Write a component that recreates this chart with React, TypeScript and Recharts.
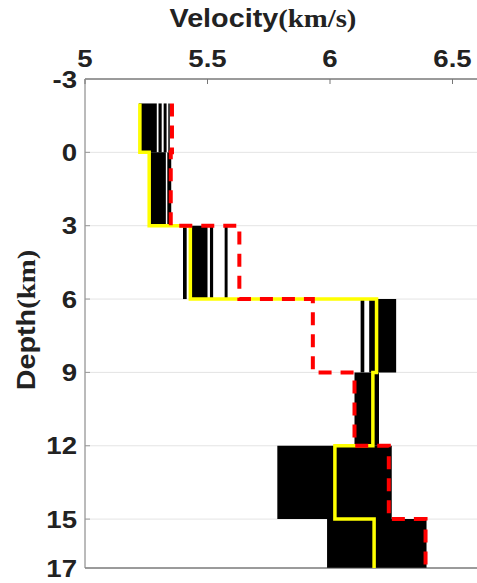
import React from 'react';
import { ComposedChart, Scatter, XAxis, YAxis, CartesianGrid, ReferenceArea, ReferenceLine } from 'recharts';

// layer boundaries (km)
const layerTop = [-2, 0, 3, 6, 9, 12, 15];
const layerBottom = [0, 3, 6, 9, 12, 15, 17];

// best model (yellow) and starting model (red dashed), km/s
const bestModel = [5.224, 5.262, 5.43, 6.19, 6.175, 6.02, 6.18];
const startModel = [5.355, 5.35, 5.63, 5.93, 6.1, 6.24, 6.39];

// black ensemble of accepted models, as [lo, hi] velocity spans per layer
const ensemble: number[][][] = [
  [[5.22, 5.293], [5.3, 5.313], [5.321, 5.333], [5.34, 5.346]],
  [[5.26, 5.33], [5.336, 5.352]],
  [[5.4, 5.415], [5.425, 5.5], [5.51, 5.523], [5.57, 5.582]],
  [[6.125, 6.14], [6.16, 6.19], [6.195, 6.27]],
  [[6.1, 6.2]],
  [[5.785, 6.252]],
  [[5.988, 6.394]],
];

const velocityTicks = [5, 5.5, 6, 6.5];
const depthTicks = [-3, 0, 3, 6, 9, 12, 15, 17];

const stepProfile = (vals: number[]) =>
  vals.flatMap((v, i) => [
    { v, d: layerTop[i] },
    { v, d: layerBottom[i] },
  ]);

const sans = 'Liberation Sans, Arial, sans-serif';
const serif = 'Liberation Serif, Times New Roman, serif';

const TopTick = ({ x, y, payload }: any) => (
  <text transform={`translate(${x},${y}) scale(1.15,1)`} textAnchor="middle" fontFamily={sans} fontWeight="bold" fontSize={24} fill="#222">
    {payload.value}
  </text>
);

const LeftTick = ({ x, y, payload }: any) => (
  <text transform={`translate(${x},${y}) scale(1.15,1)`} textAnchor="end" dy={8.5} fontFamily={sans} fontWeight="bold" fontSize={24} fill="#222">
    {payload.value}
  </text>
);

const VelocityTitle = () => (
  <text transform="translate(263,27) scale(1.15,1)" textAnchor="middle" fontWeight="bold" fontSize={25} fill="#222">
    <tspan fontFamily={sans}>Velocity</tspan>
    <tspan fontFamily={serif}>(km/s)</tspan>
  </text>
);

const DepthTitle = () => (
  <text transform="translate(35,320) rotate(-90) scale(1.15,1)" textAnchor="middle" fontWeight="bold" fontSize={25} fill="#222">
    <tspan fontFamily={sans}>Depth</tspan>
    <tspan fontFamily={serif}>(km)</tspan>
  </text>
);

const noDot = () => null;

export default function App() {
  return (
    <div style={{ position: 'absolute', left: 0, top: 0, background: '#fff' }}>
      <ComposedChart width={477} height={583} margin={{ top: 0, right: 0, bottom: 15, left: 0 }}>
        <CartesianGrid vertical={false} stroke="#e4e4e4" />
        <XAxis
          type="number"
          dataKey="v"
          orientation="top"
          domain={[5, 6.6]}
          ticks={velocityTicks}
          allowDataOverflow
          height={79}
          axisLine={{ stroke: '#444' }}
          tickLine={{ stroke: '#777' }}
          tickSize={-5}
          tickMargin={17}
          tick={<TopTick />}
          label={<VelocityTitle />}
        />
        <YAxis
          type="number"
          dataKey="d"
          reversed
          domain={[-3, 17]}
          ticks={depthTicks}
          allowDataOverflow
          width={85}
          axisLine={{ stroke: '#777' }}
          tickLine={{ stroke: '#999' }}
          tickSize={-5}
          tickMargin={13}
          tick={<LeftTick />}
          label={<DepthTitle />}
        />
        {ensemble.flatMap((spans, i) =>
          spans.map(([lo, hi], j) => (
            <ReferenceArea
              key={`e${i}-${j}`}
              x1={lo}
              x2={hi}
              y1={layerTop[i]}
              y2={layerBottom[i]}
              fill="#000"
              fillOpacity={1}
              stroke="none"
            />
          ))
        )}
        <ReferenceLine y={17} stroke="#444" />
        <Scatter
          data={stepProfile(bestModel)}
          line={{ stroke: '#ffff00', strokeWidth: 3.5 }}
          shape={noDot}
          isAnimationActive={false}
        />
        <Scatter
          data={stepProfile(startModel)}
          line={{ stroke: '#ff0000', strokeWidth: 4, strokeDasharray: '13 9' }}
          shape={noDot}
          isAnimationActive={false}
        />
      </ComposedChart>
    </div>
  );
}
